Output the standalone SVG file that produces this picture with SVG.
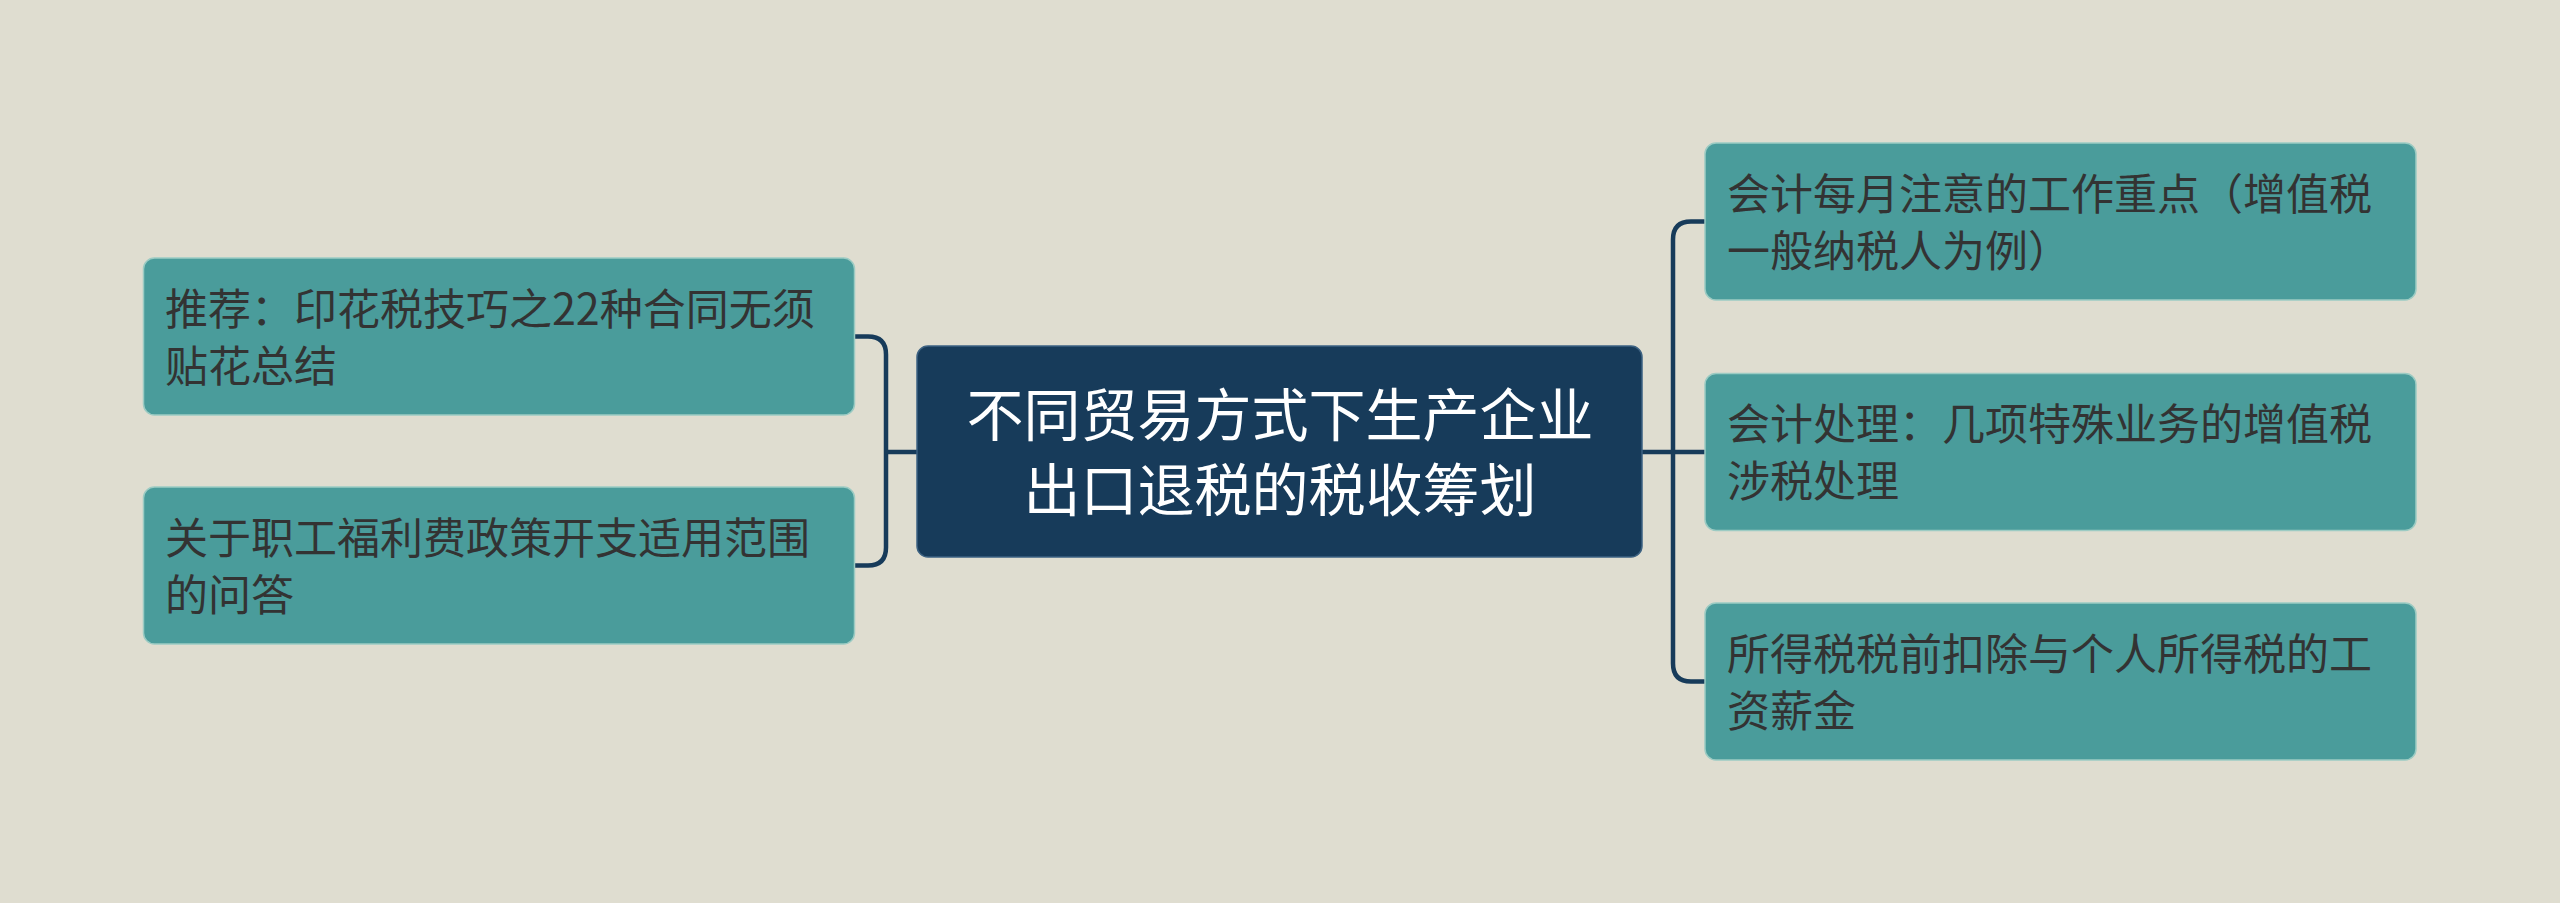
<svg xmlns="http://www.w3.org/2000/svg" width="2560" height="903" viewBox="0 0 2560 903">
<style>
.bg{fill:#dfddd0}
.leaf{fill:#4a9c9b;stroke:#9ccbc3;stroke-width:1.5}
.root{fill:#173b5a;stroke:#3d6282;stroke-width:1.5}
.lt{font-family:"Noto Sans CJK SC","Noto Sans",sans-serif;font-size:43px;fill:#333333}
.rt{font-family:"Noto Sans CJK SC","Noto Sans",sans-serif;font-size:57px;fill:#ffffff;text-anchor:middle}
.conn{fill:none;stroke:#173b5a;stroke-width:4.5}
</style>
<rect class="bg" x="0" y="0" width="2560" height="903"/>
<g id="connectors">
<path class="conn" d="M855,336.5 H868 Q886,336.5 886,354.5 V547.5 Q886,565.5 868,565.5 H855"/>
<path class="conn" d="M886,452 H917"/>
<path class="conn" d="M1642,452 H1705"/>
<path class="conn" d="M1705,221.5 H1691 Q1673,221.5 1673,239.5 V663.5 Q1673,681.5 1691,681.5 H1705"/>
</g>
<g id="root">
<rect class="root" x="917" y="346" width="725" height="211" rx="11"/>
<text class="rt" x="1280" y="435.5">不同贸易方式下生产企业</text>
<text class="rt" x="1280" y="510.5">出口退税的税收筹划</text>
</g>
<g id="left1">
<rect class="leaf" x="143.5" y="258" width="711" height="157" rx="11"/>
<text class="lt" x="165" y="324.5">推荐：印花税技巧之22种合同无须</text>
<text class="lt" x="165" y="381.5">贴花总结</text>
</g>
<g id="left2">
<rect class="leaf" x="143.5" y="487" width="711" height="157" rx="11"/>
<text class="lt" x="165" y="553.5">关于职工福利费政策开支适用范围</text>
<text class="lt" x="165" y="610.5">的问答</text>
</g>
<g id="right1">
<rect class="leaf" x="1705" y="143" width="711" height="157" rx="11"/>
<text class="lt" x="1727" y="209.5">会计每月注意的工作重点（增值税</text>
<text class="lt" x="1727" y="266.5">一般纳税人为例）</text>
</g>
<g id="right2">
<rect class="leaf" x="1705" y="373.5" width="711" height="157" rx="11"/>
<text class="lt" x="1727" y="440">会计处理：几项特殊业务的增值税</text>
<text class="lt" x="1727" y="497">涉税处理</text>
</g>
<g id="right3">
<rect class="leaf" x="1705" y="603" width="711" height="157" rx="11"/>
<text class="lt" x="1727" y="669.5">所得税税前扣除与个人所得税的工</text>
<text class="lt" x="1727" y="726.5">资薪金</text>
</g>
</svg>
